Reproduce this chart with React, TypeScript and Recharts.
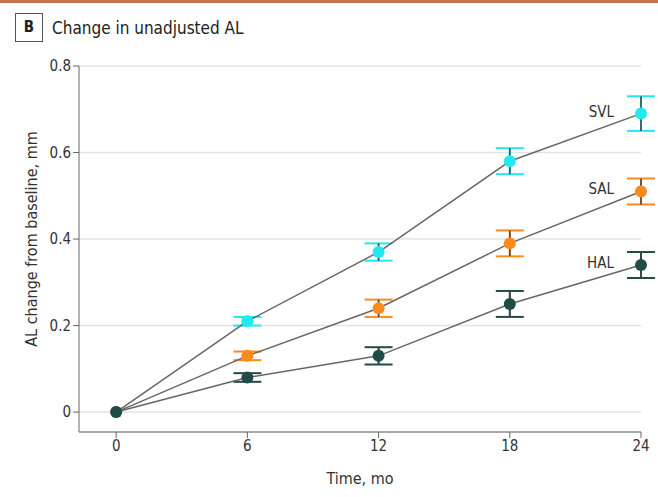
import { LineChart, Line, XAxis, YAxis, CartesianGrid, ErrorBar, Label } from "recharts";

// months since baseline
const months = [0, 6, 12, 18, 24];

// mean AL change (mm) and error half-widths
const svl = [0, 0.21, 0.37, 0.58, 0.69];
const svlErr = [0, 0.01, 0.02, 0.03, 0.04];
const sal = [0, 0.13, 0.24, 0.39, 0.51];
const salErr = [0, 0.01, 0.02, 0.03, 0.03];
const hal = [0, 0.08, 0.13, 0.25, 0.34];
const halErr = [0, 0.01, 0.02, 0.03, 0.03];

const yTicks = [0, 0.2, 0.4, 0.6, 0.8];

const data = months.map((m, i) => ({
  month: m,
  svl: svl[i],
  svlErr: svlErr[i],
  sal: sal[i],
  salErr: salErr[i],
  hal: hal[i],
  halErr: halErr[i],
}));

const series = [
  { key: "svl", name: "SVL", color: "#22e8f2" },
  { key: "sal", name: "SAL", color: "#ff8a1c" },
  { key: "hal", name: "HAL", color: "#204c47" },
];

const FONT = "'Liberation Sans Narrow', 'DejaVu Sans Condensed', sans-serif";

const endLabel = (name: string) => (props: any) => {
  const { x, y, index } = props;
  if (index !== months.length - 1) return null;
  return (
    <text x={x - 27} y={y - 2} textAnchor="end" dominantBaseline="central" fontSize={15} fill="#333" fontFamily={FONT}>
      {name}
    </text>
  );
};

const yLabel = (props: any) => {
  const { viewBox } = props;
  const cx = 31;
  const cy = viewBox.y + viewBox.height / 2 - 10;
  return (
    <text
      x={cx}
      y={cy}
      transform={`rotate(-90 ${cx} ${cy})`}
      textAnchor="middle"
      dominantBaseline="central"
      fontSize={16}
      fill="#333"
      fontFamily={FONT}
    >
      AL change from baseline, mm
    </text>
  );
};

export default function App() {
  return (
    <div style={{ position: "absolute", left: 0, top: 0, width: 658, height: 497, background: "#fff", fontFamily: FONT }}>
      <div style={{ position: "absolute", left: 0, top: 0, width: 658, height: 3, background: "#c8704f" }} />
      <div
        style={{
          position: "absolute",
          left: 15,
          top: 13,
          width: 26,
          height: 27,
          border: "1px solid #555",
          fontWeight: "bold",
          fontSize: 15,
          lineHeight: "27px",
          textAlign: "center",
          color: "#222",
        }}
      >
        B
      </div>
      <div style={{ position: "absolute", left: 52, top: 17, fontSize: 17, color: "#222", lineHeight: "22px" }}>
        Change in unadjusted AL
      </div>
      <LineChart width={658} height={497} data={data} margin={{ top: 66, right: 17, bottom: 5, left: 9 }}>
        <CartesianGrid vertical={false} stroke="#e3e3e3" strokeWidth={1.5} />
        <XAxis
          dataKey="month"
          type="number"
          domain={[-1.7, 24]}
          ticks={months}
          height={60}
          stroke="#666"
          tick={{ fill: "#333", fontSize: 15, fontFamily: FONT }}
          tickLine={{ stroke: "#666" }}
        >
          <Label value="Time, mo" position="insideBottom" offset={8} fill="#333" fontSize={16} fontFamily={FONT} />
        </XAxis>
        <YAxis
          type="number"
          domain={[-0.046, 0.8]}
          ticks={yTicks}
          width={70}
          stroke="#666"
          tickFormatter={(v: number) => (v === 0 ? "0" : v.toFixed(1))}
          tick={{ fill: "#333", fontSize: 15, fontFamily: FONT }}
        >
          <Label content={yLabel} />
        </YAxis>
        {series.map((s) => (
          <Line
            key={s.key}
            dataKey={s.key}
            stroke="#666"
            strokeWidth={1.5}
            isAnimationActive={false}
            dot={{ r: 6, fill: s.color, stroke: "none" }}
            activeDot={false}
            label={endLabel(s.name)}
          >
            <ErrorBar dataKey={`${s.key}Err`} width={14} stroke={s.color} strokeWidth={2} />
            <ErrorBar dataKey={`${s.key}Err`} width={0} stroke="#444" strokeWidth={1.5} />
          </Line>
        ))}
      </LineChart>
    </div>
  );
}
